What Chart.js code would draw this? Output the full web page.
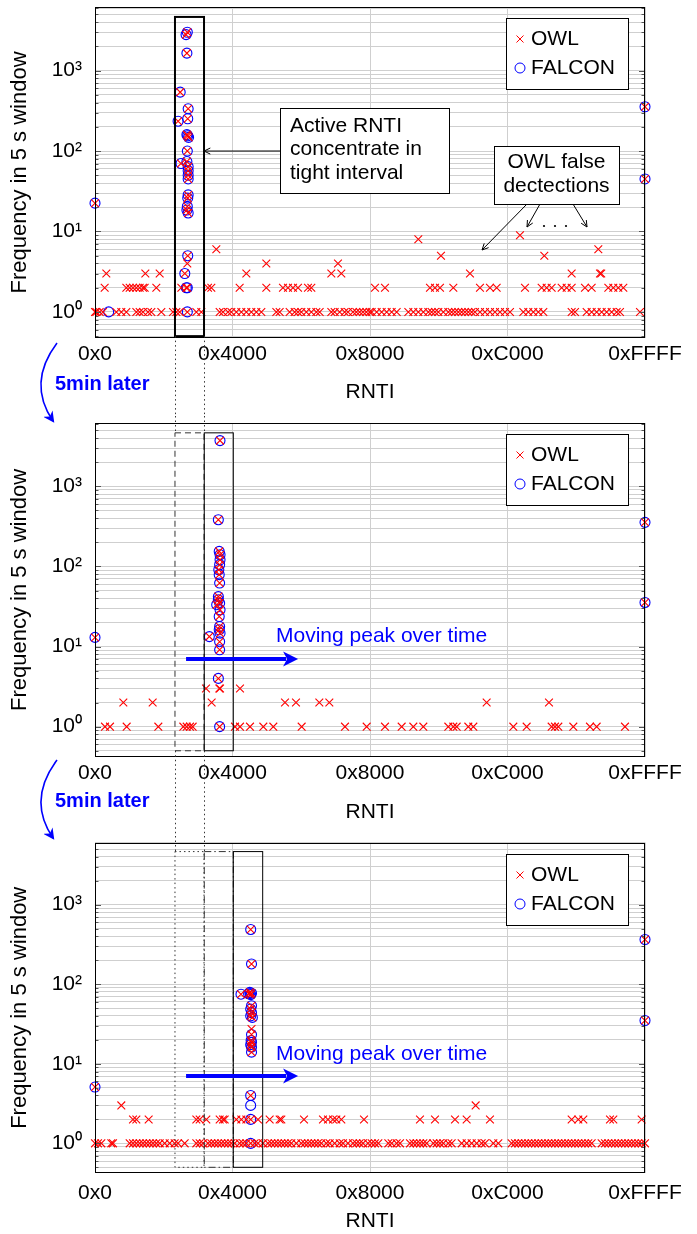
<!DOCTYPE html>
<html>
<head>
<meta charset="utf-8">
<script src="https://cdn.jsdelivr.net/npm/chart.js@4.4.1/dist/chart.umd.min.js"></script>
<style>
  html, body { margin: 0; padding: 0; background: #fff; }
  #wrap { position: relative; width: 697px; height: 1234px; overflow: hidden; }
  #wrap canvas { position: absolute; left: 0; }
  #overlay { position: absolute; left: 0; top: 0; pointer-events: none; }
</style>
</head>
<body>
<div id="wrap">
  <canvas id="c1" width="697" height="416" style="top:0px"></canvas>
  <canvas id="c2" width="697" height="420" style="top:416px"></canvas>
  <canvas id="c3" width="697" height="398" style="top:836px"></canvas>
  <svg id="overlay" width="697" height="1234">
    <defs>
      <marker id="ah" viewBox="0 0 10 10" refX="8" refY="5" markerWidth="7" markerHeight="7" orient="auto">
        <path d="M0,0 L10,5 L0,10 L3,5 z" fill="#0000ff"/>
      </marker>
    </defs>
    <path d="M57,343 Q27,383 53,421" stroke="#0000ff" stroke-width="1.6" fill="none" marker-end="url(#ah)"/>
    <text x="55" y="390" font-family="Liberation Sans, Arial, sans-serif" font-weight="bold" font-size="20" fill="#0000ff">5min later</text>
    <path d="M57,760 Q27,800 53,838" stroke="#0000ff" stroke-width="1.6" fill="none" marker-end="url(#ah)"/>
    <text x="55" y="807" font-family="Liberation Sans, Arial, sans-serif" font-weight="bold" font-size="20" fill="#0000ff">5min later</text>
  </svg>
</div>
<script>
// ---- axes ----
const rntiTicks = [0, 16384, 32768, 49152, 65535];
const rntiTickLabels = ['0x0', '0x4000', '0x8000', '0xC000', '0xFFFF'];
const freqGrid = [0.4, 0.5, 0.6, 0.7, 0.8, 0.9,
  1, 2, 3, 4, 5, 6, 7, 8, 9,
  10, 20, 30, 40, 50, 60, 70, 80, 90,
  100, 200, 300, 400, 500, 600, 700, 800, 900,
  1000, 2000, 3000, 4000, 5000, 6000, 7000, 8000, 9000];
const freqMajor = [1, 10, 100, 1000];
const freqMajorLabels = ['10⁰', '10¹', '10²', '10³'];

// peak windows (RNTI ranges) and their frequency extent
const windowA = [9530, 12990];
const windowB = [13020, 16480];
const windowC = [16480, 19980];
const windowFreq = [0.5, 4650];

// ---- snapshot 1 ----
// points seen by both OWL and FALCON [rnti, freq]
const both1 = [[0, 22.5], [65535, 355], [65535, 45],
  [11000, 3000], [10850, 2800], [10950, 1650], [10150, 540], [11100, 335], [9900, 235], [11050, 252],
  [11050, 155], [11150, 148], [10950, 160], [11000, 100], [10250, 70], [10950, 74], [11100, 64],
  [11100, 57], [11100, 50], [11100, 45], [11100, 28.5], [11050, 26], [11000, 20.5], [10950, 18.5],
  [11100, 17], [11050, 5], [10700, 3], [11000, 2], [10880, 2], [11000, 1]];
const falconOnly1 = [[1630, 1]];
const owlExtra1 = [[11000, 4], [14457, 6], [20414, 4], [28953, 4], [38525, 8], [41226, 5], [53538, 5],
  [50639, 9], [59972, 6], [1350, 3], [5997, 3], [7705, 3], [18032, 3], [28159, 3], [29351, 3],
  [44681, 3], [56795, 3], [60171, 3], [60320, 3]];
const owlAt2_1 = [1152, 3733, 4131, 4528, 4925, 5322, 5719, 5918, 7308, 10287, 13464, 13861, 17237,
  20414, 22400, 22996, 23592, 24187, 25379, 25776, 33362, 34554, 39915, 40511, 41107, 42696, 45873,
  47064, 47859, 51235, 53220, 53816, 54412, 55604, 56199, 56795, 58384, 59178, 61164, 61760, 62355, 62951];
const owlAt1_1 = [0, 159, 556, 953, 2542, 3137, 3733, 4925, 5322, 5719, 6315, 6712, 7904, 9294, 9691,
  10088, 12074, 12670, 14854, 15251, 15847, 16244, 16840, 17436, 18032, 18627, 19223, 19819, 21606,
  22003, 23194, 23790, 24187, 24585, 25180, 25776, 26372, 26769, 28159, 28556, 29152, 29748, 30145,
  30741, 31138, 31535, 31932, 32329, 32726, 32965, 33561, 34156, 34752, 35348, 35944, 37334, 37930,
  38525, 39121, 39717, 40114, 40511, 40908, 41504, 42100, 42497, 42894, 43292, 43689, 44086, 44483,
  44880, 45277, 45873, 46469, 47064, 47660, 48256, 48852, 49447, 51036, 51632, 52228, 52823, 53419,
  56795, 57192, 58582, 59178, 59774, 60370, 60965, 61561, 62157, 62554, 64937];

// ---- snapshot 2 (5 min later) ----
const both2 = [[0, 13], [65535, 355], [65535, 35.5],
  [14894, 3720], [14696, 383], [14800, 154], [14900, 140], [14900, 121], [14850, 105], [14750, 91],
  [14800, 79], [14850, 62], [14700, 42], [14700, 38.3], [14850, 34.8], [14500, 33.3], [14900, 28.7],
  [14800, 23.7], [14850, 17.8], [14800, 16.2], [14900, 14.7], [13623, 13.3], [14850, 11.5],
  [14850, 9.1], [14700, 4], [14850, 1]];
const falconOnly2 = [];
const owlExtra2 = [[13226, 3], [14815, 3], [14900, 3], [17277, 3], [13900, 2]];
const owlAt2_2 = [3376, 6871, 22639, 23949, 26729, 27921, 46667, 54095];
const owlAt1_2 = [1192, 1787, 3773, 7546, 10525, 10922, 11319, 11637, 16681, 17277, 18468, 20057,
  21248, 24624, 29788, 32369, 34554, 36540, 37930, 39121, 42100, 42696, 43093, 44483, 45079, 49845,
  51433, 54412, 54809, 55207, 56994, 58979, 59774, 63150];

// ---- snapshot 3 (10 min later) ----
const both3 = [[0, 5.1], [65535, 365], [65535, 35],
  [18551, 488], [18650, 180], [17396, 75], [18450, 79], [18650, 77], [18300, 76], [18550, 74],
  [18650, 53.7], [18550, 48.6], [18650, 44], [18550, 40], [18750, 38.3], [18650, 23.3], [18600, 19.6],
  [18650, 18.6], [18550, 17.4], [18650, 16.2], [18650, 14], [18548, 4], [18548, 2], [18548, 1]];
const falconOnly3 = [[18548, 3]];
const owlExtra3 = [[18650, 27.4], [3137, 3], [45357, 3]];
const owlAt2_3 = [4528, 4925, 6394, 12074, 12471, 13265, 14854, 15251, 15450, 16840, 17436, 18032,
  19421, 20811, 22003, 22202, 24902, 27166, 27762, 28358, 28755, 29351, 32052, 38724, 40511, 42894,
  44284, 47064, 56795, 57589, 58186, 61363, 61760, 65135];
const owlAt1_3 = [0, 357, 754, 1946, 2145, 4131, 4528, 4925, 5322, 5719, 6116, 6513, 6911, 7308, 7705,
  8301, 8897, 9492, 9889, 10684, 12074, 12471, 12868, 13464, 13861, 14258, 14655, 15053, 15450, 15847,
  16244, 16641, 17237, 17634, 18032, 19024, 19421, 20017, 20613, 21011, 21408, 21805, 22202, 22599,
  22996, 23393, 23989, 24585, 24982, 25379, 25776, 26173, 26570, 26968, 27563, 27960, 28556, 29152,
  29549, 30145, 30741, 31138, 31535, 31932, 32528, 32965, 33362, 33759, 34951, 35348, 35944, 36341,
  37532, 37930, 38327, 38724, 39121, 39518, 40313, 40710, 41107, 41504, 42100, 42497, 43689, 44284,
  44880, 45476, 46071, 46469, 47462, 48058, 49646, 50043, 50440, 50838, 51235, 51632, 52029, 52426,
  52823, 53220, 53618, 54015, 54412, 54809, 55207, 55604, 56001, 56398, 56795, 57192, 57589, 57986,
  58384, 58781, 59178, 60370, 60767, 61164, 61561, 61958, 62355, 62752, 63150, 63547, 63944, 64341,
  64738, 65135, 65535];

const FONT = '"Liberation Sans", Arial, Helvetica, sans-serif';
Chart.defaults.font.family = FONT;
Chart.defaults.font.size = 21;
Chart.defaults.color = '#000';

const GRID = '#cfcfcf';

function pts(list) { return list.map(([x, y]) => ({ x, y })); }
function row(list, y) { return list.map(x => ({ x, y })); }

// helpers for the annotation plugin
function line(ctx, x0, y0, x1, y1) {
  ctx.beginPath(); ctx.moveTo(x0, y0); ctx.lineTo(x1, y1); ctx.stroke();
}
function arrow(ctx, x0, y0, x1, y1) {
  line(ctx, x0, y0, x1, y1);
  const ang = Math.atan2(y1 - y0, x1 - x0), L = 7;
  ctx.beginPath();
  ctx.moveTo(x1 - L * Math.cos(ang - 0.45), y1 - L * Math.sin(ang - 0.45));
  ctx.lineTo(x1, y1);
  ctx.lineTo(x1 - L * Math.cos(ang + 0.45), y1 - L * Math.sin(ang + 0.45));
  ctx.stroke();
}

const annotate = {
  id: 'annotate',
  afterDraw(chart, args, o) {
    const { ctx, chartArea: a } = chart;
    const xs = chart.scales.x, ys = chart.scales.y;
    const px = v => xs.getPixelForValue(v);
    const py = v => ys.getPixelForValue(v);
    ctx.save();

    // inner tick marks on the left/right edges
    ctx.strokeStyle = '#555';
    ctx.lineWidth = 1;
    ys.ticks.forEach(t => {
      const yy = Math.round(py(t.value)) + 0.5;
      const len = freqMajor.includes(t.value) ? 6 : 3.5;
      line(ctx, a.left, yy, a.left + len, yy);
      line(ctx, a.right - len, yy, a.right, yy);
    });

    // frame
    ctx.strokeStyle = '#000';
    ctx.strokeRect(Math.round(a.left) + 0.5, Math.round(a.top) + 0.5,
      Math.round(a.width) - 1, Math.round(a.height) - 1);

    // peak windows
    const yTop = py(windowFreq[1]), yBot = py(windowFreq[0]);
    (o.windows || []).forEach(w => {
      ctx.setLineDash(w.dash || []);
      ctx.lineWidth = w.width || 1;
      ctx.strokeStyle = w.color || '#000';
      ctx.strokeRect(px(w.range[0]), yTop, px(w.range[1]) - px(w.range[0]), yBot - yTop);
    });

    // dotted connectors to the previous / next snapshot
    ctx.setLineDash([1.5, 3]);
    ctx.lineWidth = 1;
    ctx.strokeStyle = '#333';
    (o.connect || []).forEach(c => {
      windowA.forEach(v => {
        const xx = Math.round(px(v)) + 0.5;
        if (c === 'up') line(ctx, xx, 0, xx, yTop);
        if (c === 'down') line(ctx, xx, yBot, xx, chart.height);
      });
    });
    ctx.setLineDash([]);

    // text notes
    ctx.font = '21px ' + FONT;
    ctx.textBaseline = 'middle';
    (o.notes || []).forEach(n => {
      ctx.fillStyle = '#fff';
      ctx.fillRect(n.x, n.y, n.w, n.h);
      ctx.strokeStyle = '#000';
      ctx.lineWidth = 1;
      ctx.strokeRect(n.x + 0.5, n.y + 0.5, n.w, n.h);
      ctx.fillStyle = '#000';
      ctx.textAlign = n.align;
      n.lines.forEach((s, i) => {
        const tx = n.align === 'center' ? n.x + n.w / 2 : n.x + 10;
        ctx.fillText(s, tx, n.y + n.first + i * n.step);
      });
    });
    ctx.strokeStyle = '#000';
    ctx.lineWidth = 1;
    (o.arrows || []).forEach(r => {
      const to = r.toData ? [px(r.toData[0]), py(r.toData[1])] : r.to;
      arrow(ctx, r.from[0], r.from[1], to[0], to[1]);
    });
    (o.dots || []).forEach(d => {
      ctx.fillStyle = '#000';
      ctx.beginPath(); ctx.arc(d[0], d[1], 1.1, 0, Math.PI * 2); ctx.fill();
    });

    // moving-peak arrow
    if (o.move) {
      const m = o.move;
      const x0 = px(m.from), x1 = px(m.to), yy = py(m.freq);
      ctx.strokeStyle = '#0000ff';
      ctx.fillStyle = '#0000ff';
      ctx.lineWidth = 4;
      line(ctx, x0, yy, x1 - 12, yy);
      ctx.beginPath();
      ctx.moveTo(x1, yy);
      ctx.lineTo(x1 - 15, yy - 7.5);
      ctx.lineTo(x1 - 11, yy);
      ctx.lineTo(x1 - 15, yy + 7.5);
      ctx.closePath();
      ctx.fill();
      ctx.textAlign = 'left';
      ctx.fillText(m.text, px(m.textAt[0]), py(m.textAt[1]));
    }

    // legend
    const dsets = chart.data.datasets;
    const w = 122, h = 71, left = Math.round(a.right) - 17 - w, top = Math.round(a.top) + 11;
    ctx.fillStyle = '#fff';
    ctx.fillRect(left, top, w, h);
    ctx.strokeStyle = '#000';
    ctx.lineWidth = 1;
    ctx.strokeRect(left + 0.5, top + 0.5, w, h);
    ctx.strokeStyle = dsets[0].pointBorderColor;
    const cx = left + 14, r1 = top + 21, r2 = top + 50;
    line(ctx, cx - 3.5, r1 - 3.5, cx + 3.5, r1 + 3.5);
    line(ctx, cx - 3.5, r1 + 3.5, cx + 3.5, r1 - 3.5);
    ctx.strokeStyle = dsets[1].pointBorderColor;
    ctx.beginPath(); ctx.arc(cx, r2, 5, 0, Math.PI * 2); ctx.stroke();
    ctx.fillStyle = '#000';
    ctx.textAlign = 'left';
    ctx.fillText(dsets[0].label, left + 25, r1);
    ctx.fillText(dsets[1].label, left + 25, r2);

    ctx.restore();
  }
};

function makeChart(id, cfg) {
  const owl = [...row(cfg.ones, 1), ...row(cfg.twos, 2), ...pts(cfg.owlExtra), ...pts(cfg.both)];
  const falcon = [...pts(cfg.both), ...pts(cfg.falconOnly)];
  return new Chart(document.getElementById(id), {
    type: 'scatter',
    data: {
      datasets: [
        {
          label: 'OWL',
          data: owl,
          pointStyle: 'crossRot',
          pointRadius: 5.5,
          pointBorderColor: '#ff0000',
          pointBackgroundColor: '#ff0000',
          pointBorderWidth: 1.1,
          clip: false
        },
        {
          label: 'FALCON',
          data: falcon,
          pointStyle: 'circle',
          pointRadius: 5,
          pointBorderColor: '#0000ff',
          pointBackgroundColor: 'rgba(0,0,0,0)',
          pointBorderWidth: 1.1,
          clip: false
        }
      ]
    },
    options: {
      responsive: false,
      animation: false,
      devicePixelRatio: 1,
      layout: { padding: { top: cfg.padTop, right: 52, left: 0, bottom: 0 } },
      plugins: {
        legend: { display: false },
        tooltip: { enabled: false },
        annotate: cfg.notes
      },
      scales: {
        x: {
          type: 'linear',
          min: 0,
          max: 65535,
          afterBuildTicks: s => { s.ticks = rntiTicks.map(v => ({ value: v })); },
          afterFit: s => { s.height = cfg.xAxisHeight; s.paddingLeft = 0; s.paddingRight = 0; },
          ticks: {
            callback: v => { const i = rntiTicks.indexOf(v); return i < 0 ? '' : rntiTickLabels[i]; },
            maxRotation: 0,
            autoSkip: false,
            padding: cfg.tickPad
          },
          grid: { color: GRID, drawTicks: false },
          border: { display: false },
          title: { display: true, text: 'RNTI', padding: { top: 0, bottom: cfg.titlePad } }
        },
        y: {
          type: 'logarithmic',
          min: cfg.yMin,
          max: cfg.yMax,
          afterBuildTicks: s => {
            s.ticks = freqGrid.filter(v => v >= s.min && v <= s.max).map(v => ({ value: v }));
          },
          afterFit: s => { s.width = 95; s.paddingTop = 0; s.paddingBottom = 0; },
          ticks: {
            callback: v => { const i = freqMajor.indexOf(v); return i < 0 ? '' : freqMajorLabels[i]; },
            autoSkip: false,
            padding: 13
          },
          grid: { color: GRID, drawTicks: false },
          border: { display: false },
          title: { display: true, text: 'Frequency in 5 s window', font: { size: 22 },
                   padding: { top: 7, bottom: 0 } }
        }
      }
    },
    plugins: [annotate]
  });
}

makeChart('c1', {
  both: both1, falconOnly: falconOnly1, owlExtra: owlExtra1, twos: owlAt2_1, ones: owlAt1_1,
  yMin: 0.474, yMax: 6180, padTop: 7, xAxisHeight: 78, titlePad: 11, tickPad: 4,
  notes: {
    windows: [{ range: windowA, width: 2 }],
    connect: ['down'],
    notes: [
      { x: 280, y: 108, w: 169, h: 85, align: 'left', first: 18, step: 23.5,
        lines: ['Active RNTI', 'concentrate in', 'tight interval'] },
      { x: 494, y: 146, w: 125, h: 58, align: 'center', first: 16, step: 24,
        lines: ['OWL false', 'dectections'] }
    ],
    arrows: [
      { from: [280, 151], toData: [windowA[1], 100] },
      { from: [527, 204], to: [482, 250] },
      { from: [540, 204], to: [527, 227] },
      { from: [573, 204], to: [587, 227] }
    ],
    dots: [[544, 226], [555, 226], [566, 226]]
  }
});

makeChart('c2', {
  both: both2, falconOnly: falconOnly2, owlExtra: owlExtra2, twos: owlAt2_2, ones: owlAt1_2,
  yMin: 0.418, yMax: 6170, padTop: 7, xAxisHeight: 79, titlePad: 11, tickPad: 4,
  notes: {
    windows: [{ range: windowA, dash: [6, 4], color: '#333' }, { range: windowB }],
    connect: ['up', 'down'],
    move: { from: 10850, to: 24200, freq: 7, text: 'Moving peak over time', textAt: [21566, 13.5] }
  }
});

makeChart('c3', {
  both: both3, falconOnly: falconOnly3, owlExtra: owlExtra3, twos: owlAt2_3, ones: owlAt1_3,
  yMin: 0.424, yMax: 6030, padTop: 4, xAxisHeight: 61, titlePad: 0, tickPad: 8,
  notes: {
    windows: [{ range: windowA, dash: [1.5, 3], color: '#333' },
              { range: windowB, dash: [7, 3, 1.5, 3], color: '#333' },
              { range: windowC }],
    connect: ['up'],
    move: { from: 10850, to: 24200, freq: 7, text: 'Moving peak over time', textAt: [21566, 13.2] }
  }
});
</script>
</body>
</html>
